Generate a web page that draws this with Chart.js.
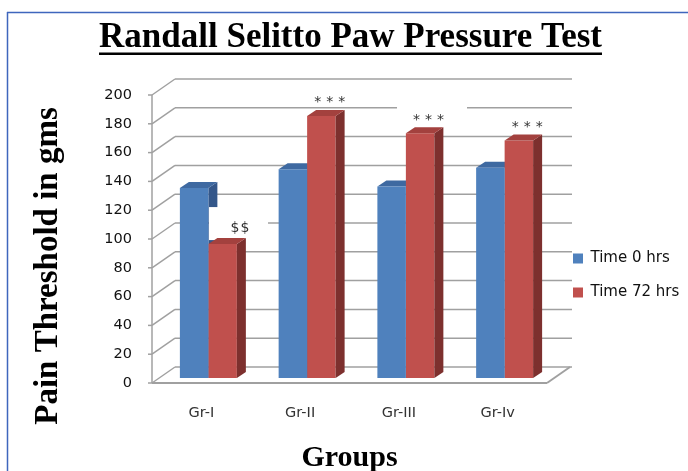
<!DOCTYPE html>
<html>
<head>
<meta charset="utf-8">
<title>Randall Selitto Paw Pressure Test</title>
<script src="https://cdn.jsdelivr.net/npm/chart.js@4.4.1/dist/chart.umd.min.js"></script>
<style>
  html, body { margin: 0; padding: 0; background: #ffffff; }
  #wrap { width: 688px; height: 471px; }
  canvas { display: block; }
</style>
</head>
<body>
<div id="wrap"><canvas id="chart" width="688" height="471"></canvas></div>
<script>
// ---- data ----
const groups = ['Gr-I', 'Gr-II', 'Gr-III', 'Gr-Iv'];
const time0hrs = [132, 145, 133, 146];
const time72hrs = [93, 182, 170, 165];
const yTickValues = [0, 20, 40, 60, 80, 100, 120, 140, 160, 180, 200];
const significance = ['$$', '***', '***', '***'];   // marks above the 72 hrs bars
const seriesNames = ['Time 0 hrs', 'Time 72 hrs'];

const chartTitle = 'Randall Selitto Paw Pressure Test';
const yTitle = 'Pain Threshold in gms';
const xTitle = 'Groups';

// ---- styles ----
const SERIF = '"Liberation Serif", "Times New Roman", serif';
const SANS = '"DejaVu Sans", Verdana, sans-serif';
const depth = { front: [-7, 5], back: [16, -11], bar: [9, -6] };
const seriesStyle = [
  { front: '#4f81bd', top: '#3e69a1', side: '#34578a' },
  { front: '#c0504d', top: '#a3413e', side: '#7d302e' }
];
const gridColor = '#a0a0a0';
const frameColor = '#3f66bd';
const markStyle = {
  '$$':  { dx: 17.4, dy: -16,   lift: 0,   spacing: 1, box: { l: -31, t: -21, w: 59, h: 33 } },
  '***': { dx: 8.5,  dy: -16.5, lift: 3.3, spacing: 5, box: { l: -31.6, t: -13, w: 70, h: 19 } }
};

Chart.defaults.font.family = SANS;

function line(ctx, x1, y1, x2, y2) {
  ctx.beginPath(); ctx.moveTo(x1, y1); ctx.lineTo(x2, y2); ctx.stroke();
}

function drawBarFaces(ctx, meta, style) {
  const [dx, dy] = depth.bar;
  meta.data.forEach(el => {
    const l = el.x - el.width / 2, r = el.x + el.width / 2, t = el.y, b = el.base;
    ctx.fillStyle = style.side;
    ctx.beginPath();
    ctx.moveTo(r, t); ctx.lineTo(r + dx, t + dy); ctx.lineTo(r + dx, b + dy); ctx.lineTo(r, b);
    ctx.closePath(); ctx.fill();
    ctx.fillStyle = style.top;
    ctx.beginPath();
    ctx.moveTo(l, t); ctx.lineTo(l + dx, t + dy); ctx.lineTo(r + dx, t + dy); ctx.lineTo(r, t);
    ctx.closePath(); ctx.fill();
  });
}

// frame, walls, floor and the 3D faces of the bars
const box3d = {
  id: 'box3d',
  beforeDraw(chart) {
    const ctx = chart.ctx;
    ctx.save();
    ctx.fillStyle = '#ffffff';
    ctx.fillRect(0, 0, chart.width, chart.height);
    ctx.strokeStyle = frameColor;
    ctx.lineWidth = 1.5;
    line(ctx, 7, 12.5, chart.width, 12.5);
    line(ctx, 7.5, 12, 7.5, chart.height);
    ctx.restore();
  },
  afterLayout(chart) {
    // legend sits a little below the middle of the plot
    const lg = chart.legend;
    if (lg) { lg.top += 40; lg.bottom += 40; }
  },
  beforeDatasetsDraw(chart) {
    const ctx = chart.ctx;
    const xs = chart.scales.x, ys = chart.scales.y;
    const L = xs.left, R = xs.right;
    const [fx, fy] = depth.front, [bx, by] = depth.back;
    ctx.save();
    ctx.strokeStyle = gridColor;
    ctx.lineWidth = 1.5;
    yTickValues.forEach(v => {
      const p = ys.getPixelForValue(v);
      line(ctx, L + bx, p + by, R + bx + 2, p + by);          // back wall
      line(ctx, L + fx, p + fy, L + bx, p + by);              // side wall
      line(ctx, L + fx - 4, p + fy, L + fx, p + fy);          // tick mark
    });
    const p0 = ys.getPixelForValue(0), pTop = ys.getPixelForValue(200);
    line(ctx, L + fx, p0 + fy, L + fx, pTop + fy);            // front axis edge
    ctx.lineWidth = 2;
    line(ctx, L + fx, p0 + fy, R + fx, p0 + fy);              // floor front edge
    line(ctx, R + fx, p0 + fy, R + bx, p0 + by);              // floor right edge
    drawBarFaces(ctx, chart.getDatasetMeta(0), seriesStyle[0]);
    ctx.restore();
  },
  afterDatasetsDraw(chart) {
    const ctx = chart.ctx;
    const meta = chart.getDatasetMeta(1);
    ctx.save();
    // white backing behind the significance marks
    const anchors = meta.data.map((el, i) => {
      const s = markStyle[significance[i]];
      return { s, x: el.x + s.dx, y: el.y + s.dy, text: significance[i] };
    });
    ctx.fillStyle = '#ffffff';
    anchors.forEach(a => ctx.fillRect(a.x + a.s.box.l, a.y + a.s.box.t, a.s.box.w, a.s.box.h));
    drawBarFaces(ctx, meta, seriesStyle[1]);
    // the marks
    ctx.fillStyle = '#333333';
    ctx.textBaseline = 'middle';
    ctx.textAlign = 'left';
    anchors.forEach(a => {
      ctx.font = '14px ' + SANS;
      const chars = a.text.split('');
      const widths = chars.map(c => ctx.measureText(c).width);
      const total = widths.reduce((s, w) => s + w, 0) + a.s.spacing * (chars.length - 1);
      let x = a.x - total / 2;
      chars.forEach((c, k) => { ctx.fillText(c, x, a.y + a.s.lift); x += widths[k] + a.s.spacing; });
    });
    ctx.restore();
  },
  afterDraw(chart) {
    const ctx = chart.ctx;
    ctx.save();
    // underline of the chart title
    const tb = chart.titleBlock;
    ctx.font = 'bold 35px ' + SERIF;
    const tw = ctx.measureText(chartTitle).width;
    const cx = (tb.left + tb.right) / 2;
    const ty = tb.top + tb.options.padding.top + 35 / 2;
    ctx.fillStyle = '#000000';
    ctx.fillRect(cx - tw / 2, ty + 14.5, tw, 2.5);
    // axis titles
    const xs = chart.scales.x;
    ctx.textAlign = 'center';
    ctx.textBaseline = 'alphabetic';
    ctx.font = 'bold 30px ' + SERIF;
    ctx.fillText(xTitle, (xs.left + xs.right) / 2 + depth.front[0], 466);
    ctx.translate(57, 266);
    ctx.rotate(-Math.PI / 2);
    ctx.font = 'bold 33px ' + SERIF;
    ctx.fillText(yTitle, 0, 0);
    ctx.restore();
  }
};

new Chart(document.getElementById('chart'), {
  type: 'bar',
  data: {
    labels: groups,
    datasets: [
      { label: seriesNames[0], data: time0hrs, backgroundColor: seriesStyle[0].front, borderWidth: 0 },
      { label: seriesNames[1], data: time72hrs, backgroundColor: seriesStyle[1].front, borderWidth: 0 }
    ]
  },
  options: {
    responsive: false,
    devicePixelRatio: 1,
    animation: false,
    layout: { padding: { left: 13, right: 0, top: 0, bottom: 0 } },
    datasets: { bar: { barPercentage: 1, categoryPercentage: 0.577 } },
    scales: {
      x: {
        grid: { display: false, drawTicks: false },
        border: { display: false },
        ticks: { padding: 27, labelOffset: depth.front[0], color: '#333333', font: { size: 14.5 } },
        afterFit(scale) { scale.height = 93; }
      },
      y: {
        min: 0, max: 200,
        grid: { display: false, drawTicks: false },
        border: { display: false },
        afterBuildTicks(scale) { scale.ticks = yTickValues.map(v => ({ value: v })); },
        ticks: { padding: 27, labelOffset: depth.front[1], color: '#111111', font: { size: 14.5 } },
        afterFit(scale) { scale.width = 146; }
      }
    },
    plugins: {
      title: {
        display: true,
        text: chartTitle,
        color: '#000000',
        font: { family: SERIF, size: 35, weight: 'bold', lineHeight: 1 },
        padding: { top: 20.5, bottom: 34.5 }
      },
      legend: {
        position: 'right',
        maxWidth: 134,
        labels: { boxWidth: 10, boxHeight: 10, padding: 19, color: '#111111', font: { size: 15 } }
      },
      tooltip: { enabled: false }
    }
  },
  plugins: [box3d]
});
</script>
</body>
</html>
